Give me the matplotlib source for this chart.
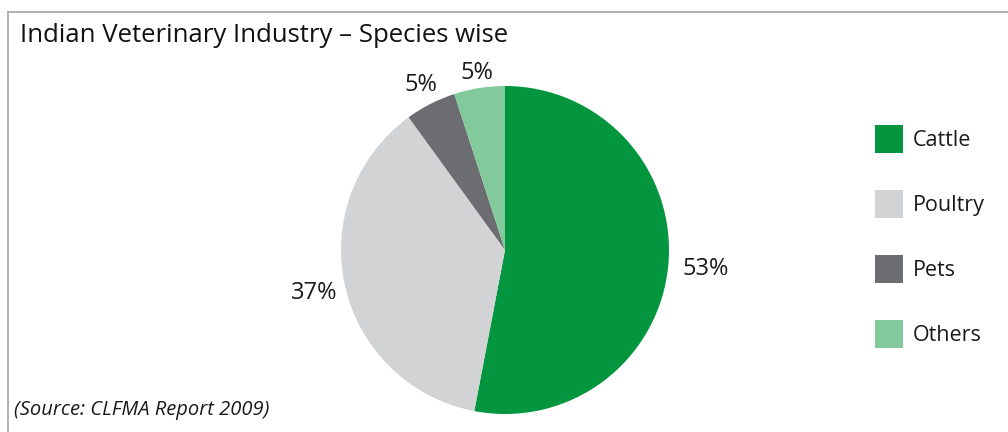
import matplotlib.pyplot as plt
import numpy as np
from matplotlib.lines import Line2D

plt.rcParams['font.family'] = ['Open Sans', 'DejaVu Sans']

# data
species = ['Cattle', 'Poultry', 'Pets', 'Others']
shares = [53, 37, 5, 5]
colors = ['#03963f', '#d2d3d5', '#6c6d70', '#82ca9c']

W, H = 1008, 432
fig = plt.figure(figsize=(W / 100, H / 100), dpi=100)

# frame around the chart (top and left edges)
fig.add_artist(Line2D([8 / W, 8 / W], [0, 1 - 12 / H], color='#a6a6a6', lw=1.2, transform=fig.transFigure))
fig.add_artist(Line2D([8 / W, 1], [1 - 12 / H, 1 - 12 / H], color='#a6a6a6', lw=1.2, transform=fig.transFigure))

# pie axes, centre at (505, 250) px, radius 164 px
cx, cy, r = 505, 250, 164
half = 170
ax = fig.add_axes([(cx - half) / W, (H - cy - half) / H, 2 * half / W, 2 * half / H])
wedges, _ = ax.pie(shares, colors=colors, startangle=90, counterclock=False,
                   radius=1, wedgeprops=dict(linewidth=0))
lim = half / r
ax.set_xlim(-lim, lim)
ax.set_ylim(-lim, lim)
ax.set_aspect('equal')
ax.axis('off')

# percentage labels outside the slices
dist = [1.23, 1.19, 1.13, 1.09]
for w, v, d in zip(wedges, shares, dist):
    theta = np.deg2rad((w.theta1 + w.theta2) / 2)
    ax.text(d * np.cos(theta), d * np.sin(theta), f'{v}%', ha='center', va='center',
            fontsize=17, color='#1a1a1a')

# legend
fig.legend(wedges, species, loc='upper left', bbox_to_anchor=(875 / W, 1 - 125 / H),
           frameon=False, fontsize=15.5, handlelength=1.3, handleheight=1.625,
           handletextpad=0.45, labelspacing=1.72, borderpad=0, borderaxespad=0,
           labelcolor='#1a1a1a')

fig.text(20 / W, 1 - 36 / H, 'Indian Veterinary Industry – Species wise', fontsize=18.5,
         va='center', ha='left', color='#111111')
fig.text(14 / W, 1 - 410 / H, '(Source: CLFMA Report 2009)', fontsize=14.5, style='italic',
         va='center', ha='left', color='#1a1a1a')

fig.savefig('out.png', dpi=100)
